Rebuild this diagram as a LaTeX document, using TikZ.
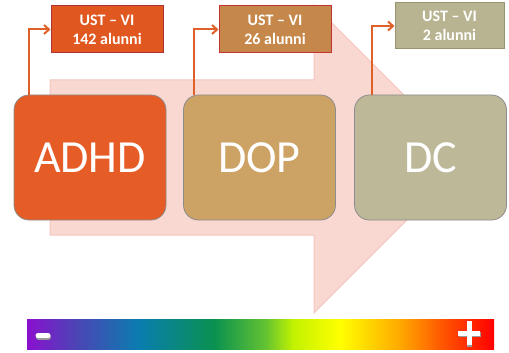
\documentclass[tikz,border=0pt]{standalone}
\usepackage{fontspec}
\setmainfont{Carlito}
\usetikzlibrary{arrows.meta,calc}
\definecolor{arrowpink}{HTML}{F9D8D2}
\definecolor{arrowedge}{HTML}{F2C6BE}
\definecolor{adhdc}{HTML}{E65C26}
\definecolor{dopc}{HTML}{CCA365}
\definecolor{dcc}{HTML}{BDB998}
\definecolor{labA}{HTML}{E0571F}
\definecolor{labB}{HTML}{C5884A}
\definecolor{labC}{HTML}{B8B391}
\definecolor{connc}{HTML}{E0602A}
\definecolor{rb1}{HTML}{8A10CF}
\definecolor{rb2}{HTML}{4B45B5}
\definecolor{rb3}{HTML}{0A7DB0}
\definecolor{rb4}{HTML}{0A9150}
\definecolor{rb5}{HTML}{62C232}
\definecolor{rb6}{HTML}{C2F200}
\definecolor{rb7}{HTML}{FFFF00}
\definecolor{rb8}{HTML}{FFA800}
\definecolor{rb9}{HTML}{FF5500}
\definecolor{rb10}{HTML}{FF0000}
\pgfdeclarehorizontalshading{rainbowbar}{100bp}{color(0bp)=(rb1); color(25bp)=(rb1); color(30.35bp)=(rb2); color(37bp)=(rb3); color(45bp)=(rb4); color(50.5bp)=(rb5); color(53.5bp)=(rb6); color(58.5bp)=(rb7); color(65bp)=(rb8); color(69.5bp)=(rb9); color(75bp)=(rb10); color(100bp)=(rb10)}
\tikzset{
  bigbox/.style={rounded corners=15pt, minimum width=152pt, minimum height=125pt, draw=black!45, line width=0.8pt, text=white, font=\fontsize{46}{50}\selectfont, inner sep=0pt},
  labbox/.style={minimum width=112pt, minimum height=47pt, line width=1pt, text=white, font=\bfseries\fontsize{16}{19}\selectfont, align=center, inner sep=0pt},
  conn/.style={draw=connc, line width=2pt, -{Straight Barb[length=5pt,width=9pt,line width=2pt]}},
}
\begin{document}
\begin{tikzpicture}[x=1pt,y=-1pt]
\useasboundingbox (0,0) rectangle (509,353);
% big background arrow
\fill[arrowpink, draw=arrowedge, line width=1pt] (50,80) -- (314,80) -- (314,5) -- (468,159) -- (314,313) -- (314,235) -- (50,235) -- cycle;
% main boxes
\node[bigbox, fill=adhdc] (adhd) at (90,157.5) {ADHD};
\node[bigbox, fill=dopc] (dop) at (259.5,157.5) {DOP};
\node[bigbox, fill=dcc] (dc) at (430.5,157.5) {DC};
% label boxes
\node[labbox, fill=labA, draw=red!60!black!80] (l1) at (107,29.5) {UST – VI\\142 alunni};
\node[labbox, fill=labB, draw=red!70!black!80] (l2) at (275,29.5) {UST – VI\\26 alunni};
\node[labbox, fill=labC, draw=black!55!olive!60, minimum width=109pt, minimum height=46pt] (l3) at (449.5,26) {UST – VI\\2 alunni};
% connectors
\draw[conn] ([xshift=15pt]adhd.north west) |- (l1.west);
\draw[conn] ([xshift=11pt]dop.north west) |- (l2.west);
\draw[conn] ([xshift=18pt]dc.north west) |- (l3.west);
% rainbow bar
\shade[shading=rainbowbar] (27,319) rectangle (494,349);
% minus and plus
\draw[black!40, line width=5pt, line cap=round] (38.5,337) -- (48.5,337);
\draw[white, line width=5pt, line cap=round] (38,335.5) -- (48,335.5);
\draw[black!40, line width=5pt] (458.5,334.5) -- (480.5,334.5) (469.5,322.5) -- (469.5,346.5);
\draw[white, line width=5pt] (458,333) -- (480,333) (469,321) -- (469,345);
\end{tikzpicture}
\end{document}
